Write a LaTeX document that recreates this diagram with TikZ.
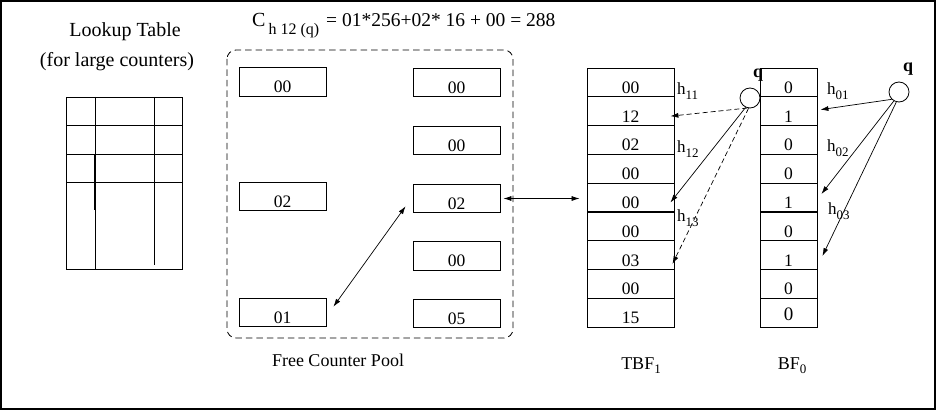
\documentclass[tikz,border=0pt]{standalone}
\usepackage{fontspec}
\setmainfont{Liberation Serif}
\usetikzlibrary{arrows.meta,calc}
\begin{document}
\begin{tikzpicture}[x=1pt,y=-1pt,
  box/.style={draw,line width=0.8pt,minimum width=87pt,minimum height=28.8pt,inner sep=0pt,
    text height=22pt,text depth=0pt,font=\fontsize{17.5}{20}\selectfont},
  bcell/.style={box,minimum width=57pt},
  qcirc/.style={circle,draw,line width=0.8pt,minimum size=20pt,inner sep=0pt},
  qlab/.style={anchor=base,font=\bfseries\fontsize{18}{20}\selectfont},
  hlab/.style={anchor=base west,inner sep=0pt,font=\fontsize{17}{20}\selectfont},
  captext/.style={anchor=base,inner sep=0pt,font=\fontsize{18}{22}\selectfont},
  arr/.style={line width=0.7pt,-{Latex[length=8pt,width=5pt]}},
  darr/.style={line width=0.7pt,{Latex[length=8pt,width=5pt]}-{Latex[length=8pt,width=5pt]}},
  dsh/.style={dash pattern=on 5pt off 3pt}
]
\useasboundingbox (0,0) rectangle (937,411);
\draw[line width=1.8pt] (1,1) rectangle (935,409);

% Lookup table
\node[captext,font=\fontsize{20}{24}\selectfont] (lt1) at (125,36.7) {Lookup Table};
\node[captext,font=\fontsize{20}{24}\selectfont] (lt2) at (117,66.7) {(for large counters)};
\draw[line width=0.8pt] (66,97) rectangle (182,269);
\draw[line width=0.8pt] (95,97) -- (95,269) (154,97) -- (154,265)
  (66,125) -- (182,125) (66,154) -- (182,154) (66,182) -- (182,182);
\draw[line width=1.3pt] (95,154) -- (95,210);

% formula
\node[anchor=base west,inner sep=0pt] (form) at (252,26.7)
  {{\fontsize{20}{24}\selectfont C}\hspace{3pt}\raisebox{-8.3pt}{\fontsize{16}{18}\selectfont h 12 (q)}\hspace{7pt}{\fontsize{19.5}{24}\selectfont = 01*256+02* 16 + 00 = 288}};

% free counter pool
\draw[line width=0.8pt,dash pattern=on 6.5pt off 4pt,rounded corners=9pt] (227,50) rectangle (513,338);
\node[box] (pl1) at (282.5,82) {00};
\node[box] (pl2) at (282.5,196.5) {02};
\node[box] (pl3) at (282.5,312.5) {01};
\node[box] (pr1) at (456.5,82.5) {00};
\node[box] (pr2) at (456.5,140.5) {00};
\node[box] (pr3) at (456.5,198.5) {02};
\node[box] (pr4) at (456.5,256) {00};
\node[box] (pr5) at (456.5,313.5) {05};
\node[captext] (fcp) at (338,367) {Free Counter Pool};

% TBF_1
\foreach \v [count=\i] in {00,12,02,00,00,00,03,00,15}
  \node[box] (t\i) at (630.5,{68+28.78*(\i-0.5)}) {\v};
\node[captext] (tbf) at (641,370) {TBF\raisebox{-4pt}{\fontsize{13}{15}\selectfont 1}};

% BF_0
\foreach \v [count=\i] in {0,1,0,0,1,0,1,0}
  \node[bcell] (b\i) at (788.5,{68+28.78*(\i-0.5)}) {\v};
\node[bcell,text height=15pt,font=\fontsize{19}{22}\selectfont] (b9) at (788.5,{68+28.78*8.5}) {0};
\node[captext] (bf) at (792,370) {BF\raisebox{-4pt}{\fontsize{13}{15}\selectfont 0}};

% pool arrows
\draw[darr] ($(pl3.north east)+(7,9)$) -- ($(pr3.south west)+(-7,-7)$);
\draw[darr] ($(pr3.east)+(3,0)$) -- ($(t5.west)+(-7,1)$);

% q circles
\node[qcirc] (qa) at (750,98) {};
\node[qlab] (qla) at (758,78) {q};
\node[qcirc] (qb) at (899,92) {};
\node[qlab] (qlb) at (908,72) {q};

% hash arrows for TBF
\draw[arr,dsh] (qa.255) -- ($(t2.east)+(-4,5)$);
\draw[arr] (qa.245) -- ($(t5.east)+(-4,5)$);
\draw[arr,dsh] (qa.262) -- ($(t7.east)+(-2,9)$);
\node[hlab] (h11) at (677,95) {h\raisebox{-5pt}{\fontsize{13}{15}\selectfont 11}};
\node[hlab] (h12) at (677,153) {h\raisebox{-5pt}{\fontsize{13}{15}\selectfont 12}};
\node[hlab] (h13) at (677,222) {h\raisebox{-5pt}{\fontsize{13}{15}\selectfont 13}};

% hash arrows for BF
\draw[arr] (qb.225) -- ($(b2.east)+(3,-1.5)$);
\draw[arr] (qb.240) -- ($(b5.east)+(4,-3.5)$);
\draw[arr] (qb.255) -- ($(b7.east)+(5,1)$);
\node[hlab] (h01) at (827,95) {h\raisebox{-5pt}{\fontsize{13}{15}\selectfont 01}};
\node[hlab] (h02) at (827,152) {h\raisebox{-5pt}{\fontsize{13}{15}\selectfont 02}};
\node[hlab] (h03) at (828,215) {h\raisebox{-5pt}{\fontsize{13}{15}\selectfont 03}};
\end{tikzpicture}
\end{document}
